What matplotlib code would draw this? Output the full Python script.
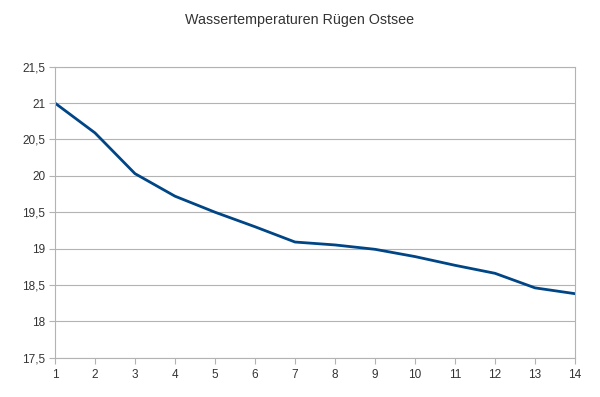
import matplotlib
matplotlib.use("Agg")
import matplotlib.pyplot as plt
from matplotlib.ticker import FuncFormatter, MultipleLocator

days = [1, 2, 3, 4, 5, 6, 7, 8, 9, 10, 11, 12, 13, 14]
temps = [21.0, 20.59, 20.03, 19.72, 19.50, 19.30, 19.09, 19.05, 18.99, 18.89, 18.77, 18.66, 18.46, 18.38]
title = "Wassertemperaturen Rügen Ostsee"

plt.rcParams['font.family'] = ['Liberation Sans', 'DejaVu Sans']

fig = plt.figure(figsize=(6.0, 3.97), dpi=100)
ax = fig.add_axes([55/600, 1-357.7/397, 520/600, (357.7-66.7)/397])

ax.plot(days, temps, color='#004586', linewidth=2.0, solid_joinstyle='round')

ax.set_xlim(1, 14)
ax.set_ylim(17.5, 21.5)
ax.set_xticks(days)
ax.yaxis.set_major_locator(MultipleLocator(0.5))
ax.yaxis.set_major_formatter(FuncFormatter(lambda v, p: (f"{v:g}").replace('.', ',')))

ax.grid(axis='y', color='#b3b3b3', linewidth=0.8)
ax.set_axisbelow(True)
for s in ax.spines.values():
    s.set_color('#b3b3b3')
    s.set_linewidth(0.8)

ax.tick_params(axis='both', colors='#b3b3b3', labelcolor='#333333', labelsize=8.5, length=4, width=0.8)
ax.tick_params(axis='x', pad=4)
ax.tick_params(axis='y', pad=3)

fig.text(0.5, 1-20/397, title, ha='center', va='center', fontsize=10.3, color='#333333')

fig.savefig('out.png', dpi=100)
